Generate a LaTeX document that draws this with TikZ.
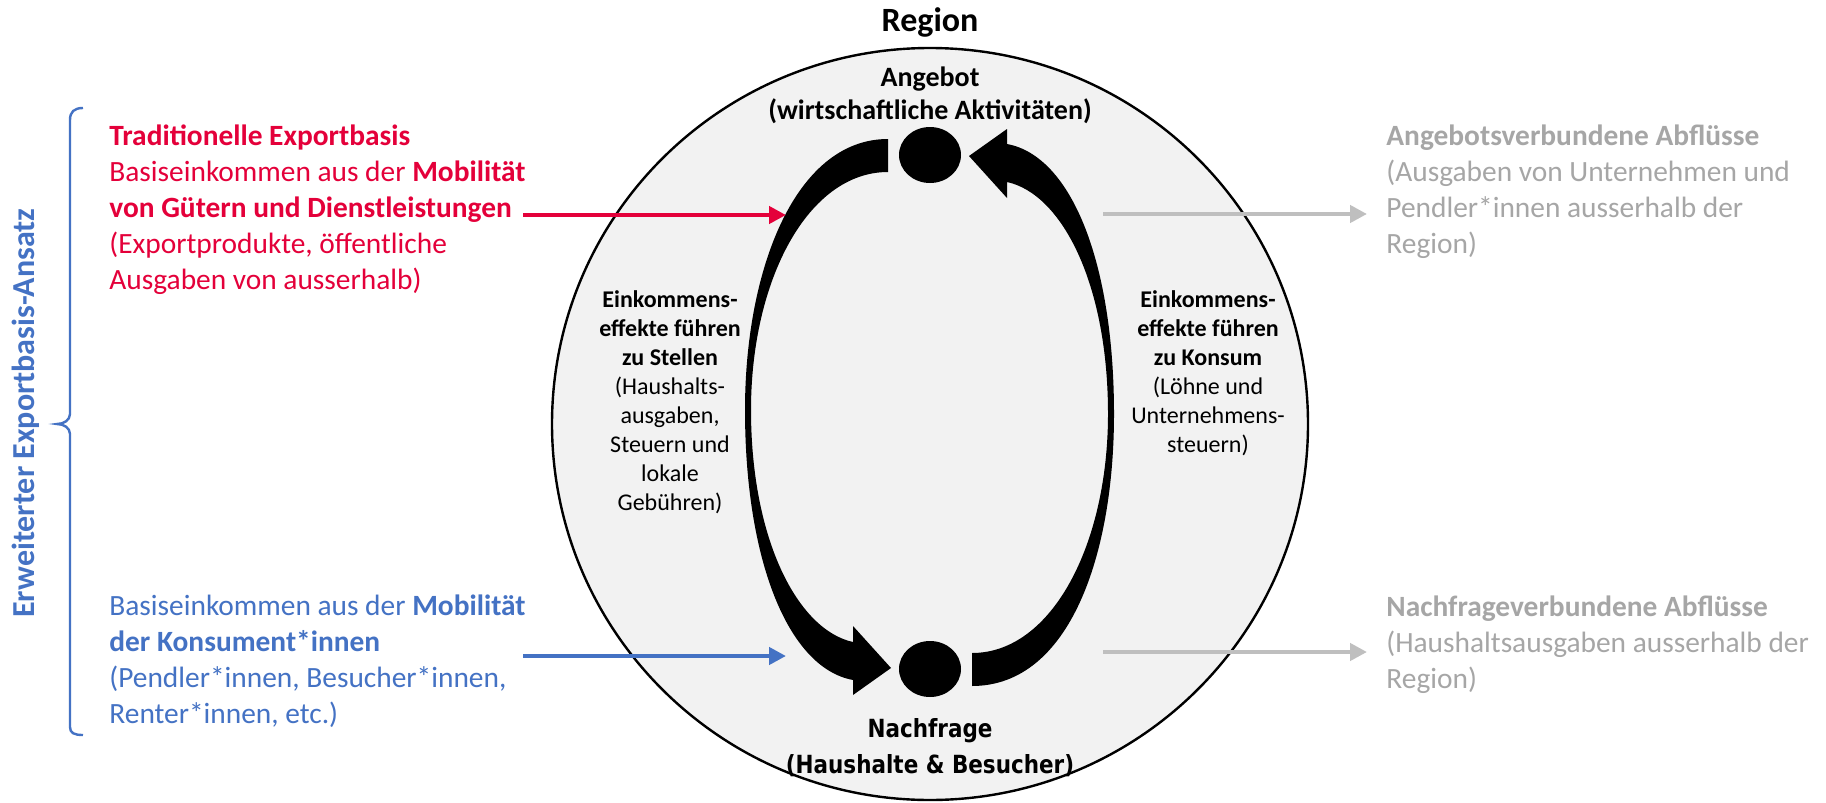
\documentclass[tikz,border=0pt]{standalone}
\usepackage{fontspec}
\setmainfont{Carlito}
\newfontfamily\tahoma[FakeStretch=0.86]{DejaVu Sans}
\usetikzlibrary{arrows.meta,shapes.geometric}
\definecolor{kreis}{HTML}{F2F2F2}
\definecolor{rot}{HTML}{E4003A}
\definecolor{blau}{HTML}{4472C4}
\definecolor{grau}{HTML}{A6A6A6}
\definecolor{graupfeil}{HTML}{BFBFBF}

\begin{document}
\begin{tikzpicture}[
       x=0.5pt, y=-0.5pt,
       punkt/.style={
         ellipse,
         fill=black,
         inner sep=0pt,
         minimum width=31pt,
         minimum height=28pt
       },
       textblock/.style={anchor=north west, align=left, inner sep=0pt,
         font=\fontsize{14.7}{18}\selectfont},
       mitte/.style={anchor=north, align=center, inner sep=0pt,
         font=\fontsize{12}{14.5}\selectfont},
       pfeil/.style={line width=2.4pt, -{Triangle[length=8.5pt,width=8.5pt]}}
     ]
       \path[use as bounding box, fill=white] (0,0) rectangle (1826,803);

       % Region
       \draw[line width=1.2pt, fill=kreis] (930,424) ellipse [x radius=378, y radius=376];
       \node (region) at (930,22) {\fontsize{17}{20}\selectfont\bfseries Region};

       \node (angebot) at (930,155) [punkt]{};
       \node (nachfrage) at (930,669) [punkt]{};

       % Kreislauf links (zu Stellen)
       \fill (888,139) .. controls (795,139) and (745,270) .. (745,410)
           .. controls (745,560) and (788,668) .. (853,680)
           -- (853,695) -- (891,668) -- (853,626) -- (853,642)
           .. controls (798,630) and (751,540) .. (751,410)
           .. controls (751,280) and (808,172) .. (888,172) -- cycle;
       % Kreislauf rechts (zu Konsum)
       \fill (972,686) .. controls (1070,686) and (1114,554) .. (1114,414)
           .. controls (1114,264) and (1072,156) .. (1007,144)
           -- (1007,129) -- (969,156) -- (1007,198) -- (1007,182)
           .. controls (1062,194) and (1108,284) .. (1108,414)
           .. controls (1108,544) and (1052,653) .. (972,653) -- cycle;

       \node (angtext) at (930,66) [anchor=north, align=center, inner sep=0pt,
         font=\fontsize{14}{16.5}\selectfont\bfseries]
         {Angebot\\(wirtschaftliche Aktivitäten)};
       \node (nachtext) at (930,718) [anchor=north, align=center, inner sep=0pt,
         font=\tahoma\bfseries\fontsize{12.5}{18}\selectfont]
         {Nachfrage\\(Haushalte \& Besucher)};

       \node (stellen) at (670,290) [mitte]
         {\textbf{Einkommens-}\\\textbf{effekte führen}\\\textbf{zu Stellen}\\(Haushalts-\\ausgaben,\\Steuern und\\lokale\\Gebühren)};
       \node (konsum) at (1208,290) [mitte]
         {\textbf{Einkommens-}\\\textbf{effekte führen}\\\textbf{zu Konsum}\\(Löhne und\\Unternehmens-\\steuern)};

       % Zuflüsse
       \node (export) at (109,124) [textblock, text=rot]
         {\textbf{Traditionelle Exportbasis}\\Basiseinkommen aus der \textbf{Mobilität}\\\textbf{von Gütern und Dienstleistungen}\\(Exportprodukte, öffentliche\\Ausgaben von ausserhalb)};
       \node (konsument) at (109,594) [textblock, text=blau]
         {Basiseinkommen aus der \textbf{Mobilität}\\\textbf{der Konsument*innen}\\(Pendler*innen, Besucher*innen,\\Renter*innen, etc.)};

       % Abflüsse
       \node (angabfl) at (1386,124) [textblock, text=grau]
         {\textbf{Angebotsverbundene Abflüsse}\\(Ausgaben von Unternehmen und\\Pendler*innen ausserhalb der\\Region)};
       \node (nachabfl) at (1386,595) [textblock, text=grau]
         {\textbf{Nachfrageverbundene Abflüsse}\\(Haushaltsausgaben ausserhalb der\\Region)};

       \coordinate (r1) at (523,215);
       \coordinate (r2) at (786,215);
       \coordinate (b1) at (523,656);
       \coordinate (b2) at (786,656);
       \coordinate (g1) at (1103,214);
       \coordinate (g2) at (1367,214);
       \coordinate (g3) at (1103,652);
       \coordinate (g4) at (1367,652);

       \draw[pfeil, rot] (r1) -- (r2);
       \draw[pfeil, blau] (b1) -- (b2);
       \draw[pfeil, graupfeil] (g1) -- (g2);
       \draw[pfeil, graupfeil] (g3) -- (g4);

       % Klammer
       \draw[blau, line width=1.2pt]
         (83,108) .. controls (74,108) and (70,112) .. (70,120) -- (70,414)
         .. controls (70,420) and (64,424) .. (57,424)
         .. controls (64,424) and (70,428) .. (70,434) -- (70,727)
         .. controls (70,733) and (74,735) .. (83,735);
       \node (ansatz) at (26,413) [rotate=90, text=blau,
         font=\fontsize{16}{18}\selectfont\bfseries]
         {Erweiterter Exportbasis-Ansatz};

\end{tikzpicture}
\end{document}
